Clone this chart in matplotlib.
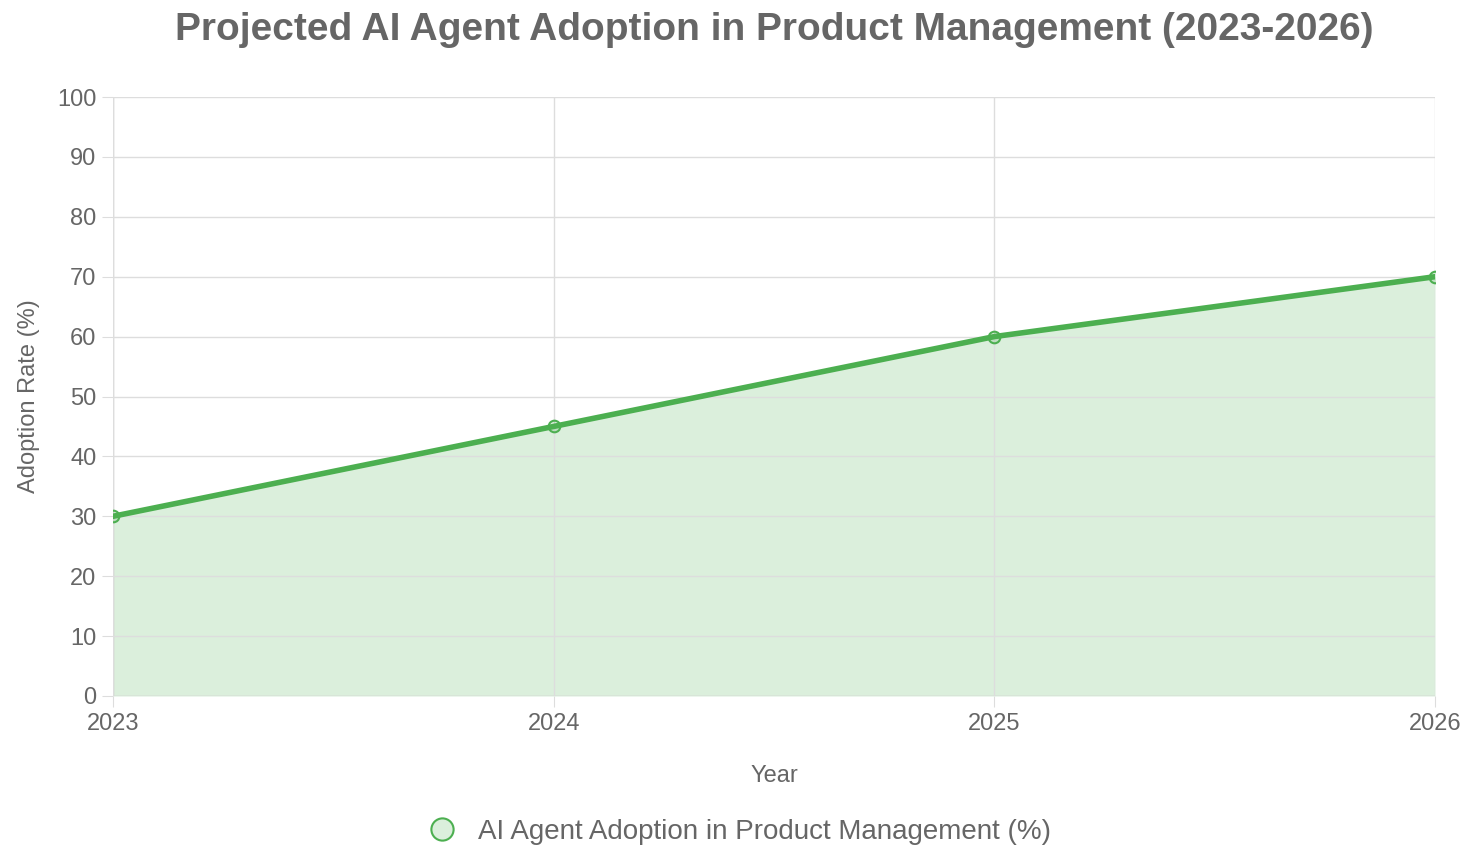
import matplotlib
matplotlib.use('Agg')
import matplotlib.pyplot as plt
from matplotlib.lines import Line2D

# chart data
years = [2023, 2024, 2025, 2026]
adoption = [30, 45, 60, 70]
series_label = 'AI Agent Adoption in Product Management (%)'

plt.rcParams['font.family'] = ['Liberation Sans', 'DejaVu Sans']
green = '#4caf50'
text_col = '#666666'
grid_col = '#dddddd'

fig = plt.figure(figsize=(14.68, 8.66), dpi=100)
ax = fig.add_axes([113 / 1468, 1 - 696 / 866, (1435 - 113) / 1468, (696 - 97) / 866])

ax.fill_between(years, adoption, 0, color=green, alpha=0.2, linewidth=0, zorder=0.5)
ax.plot(years, adoption, color=green, linewidth=4, solid_capstyle='round', zorder=3)
ax.scatter(years, adoption, s=70, facecolor=(76/255, 175/255, 80/255, 0.2),
           edgecolor=green, linewidth=1.5, zorder=4)

ax.set_xlim(2023, 2026)
ax.set_ylim(0, 100)
ax.set_xticks(years)
ax.set_yticks(range(0, 101, 10))
ax.grid(True, color=grid_col, linewidth=1, zorder=1)
ax.set_axisbelow(False)
for s in ax.spines.values():
    s.set_visible(False)
ax.axvline(2023, color='#cccccc', linewidth=1, zorder=1)
ax.axhline(0, color='#cccccc', linewidth=1, zorder=1)
ax.tick_params(colors=text_col, labelsize=17, length=8, color=grid_col, pad=4)

ax.set_xlabel('Year', color=text_col, fontsize=17, labelpad=22)
ax.set_ylabel('Adoption Rate (%)', color=text_col, fontsize=17, labelpad=12)
fig.suptitle('Projected AI Agent Adoption in Product Management (2023-2026)',
             x=(113 + 1435) / 2 / 1468, y=1 - 12 / 866, va='top',
             fontsize=28, fontweight='bold', color=text_col)

handle = Line2D([], [], marker='o', linestyle='none', markersize=16,
                markerfacecolor=(76/255, 175/255, 80/255, 0.2),
                markeredgecolor=green, markeredgewidth=1.5)
fig.legend([handle], [series_label], loc='center', bbox_to_anchor=(733 / 1468, 1 - 832 / 866),
           frameon=False, fontsize=20, labelcolor=text_col, handletextpad=0.3)

fig.savefig('out.png', dpi=100)
